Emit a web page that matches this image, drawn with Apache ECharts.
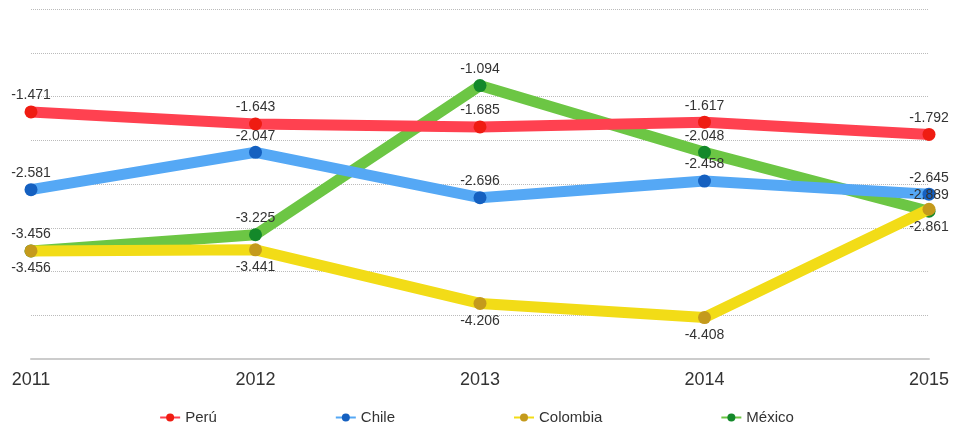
<!DOCTYPE html>
<html><head><meta charset="utf-8">
<script src="https://cdn.jsdelivr.net/npm/echarts@6/dist/echarts.min.js"></script>
<style>html,body{margin:0;padding:0;background:#fff}#c{width:953px;height:425px}</style>
</head><body><div id="c"></div>
<script>
var years = ['2011','2012','2013','2014','2015'];
var peru = [-1.471, -1.643, -1.685, -1.617, -1.792];
var chile = [-2.581, -2.047, -2.696, -2.458, -2.645];
var colombia = [-3.456, -3.441, -4.206, -4.408, -2.861];
var mexico = [-3.456, -3.225, -1.094, -2.048, -2.889];

var FONT = 'Liberation Sans';
function mk(name, data, lineColor, dotColor, z) {
  return {
    name: name, type: 'line', data: data, z: z,
    symbol: 'circle', symbolSize: 13,
    lineStyle: {width: 11, color: lineColor},
    itemStyle: {color: dotColor},
    label: {show: false},
    emphasis: {disabled: true},
    animation: false
  };
}
function lab(data, labelPos, dist) {
  return {
    name: '_lab', type: 'line', data: data, z: 10, silent: true,
    symbol: 'circle', symbolSize: 13,
    lineStyle: {width: 0, color: 'rgba(0,0,0,0)'},
    itemStyle: {color: 'rgba(0,0,0,0)'},
    label: {show: true, position: labelPos, distance: dist, color: '#333', fontSize: 14, fontFamily: FONT,
      formatter: function (p) { return p.value.toFixed(3); }},
    emphasis: {disabled: true},
    animation: false
  };
}
var chart = echarts.init(document.getElementById('c'));
chart.setOption({
  backgroundColor: '#fff',
  animation: false,
  grid: {left: 31, right: 24, top: 9, bottom: 66},
  legend: {
    top: 405, left: 'center', itemGap: 118, itemWidth: 20, itemHeight: 10,
    data: ['Perú', 'Chile', 'Colombia', 'México'],
    textStyle: {color: '#333', fontSize: 15, fontFamily: FONT}
  },
  xAxis: {
    type: 'category', data: years, boundaryGap: false,
    axisLine: {onZero: false, lineStyle: {color: '#ccc', width: 2}},
    axisTick: {show: false},
    axisLabel: {color: '#333', fontSize: 18, fontFamily: FONT, margin: 12}
  },
  yAxis: {
    type: 'value', min: -5, max: 0, interval: 0.625,
    axisLabel: {show: false}, axisLine: {show: false}, axisTick: {show: false},
    splitLine: {lineStyle: {color: '#bbb', type: 'dotted', width: 1}}
  },
  series: [
    mk('México', mexico, '#6cc644', '#13882a', 2),
    mk('Colombia', colombia, '#f2dc17', '#c49a1c', 3),
    mk('Chile', chile, '#55a8f5', '#1560c0', 4),
    mk('Perú', peru, '#ff4150', '#ef1c12', 5),
    lab(mexico, 'top', 3),
    lab(colombia, 'bottom', 4),
    lab(chile, 'top', 3),
    lab(peru, 'top', 3)
  ]
});
</script></body></html>
